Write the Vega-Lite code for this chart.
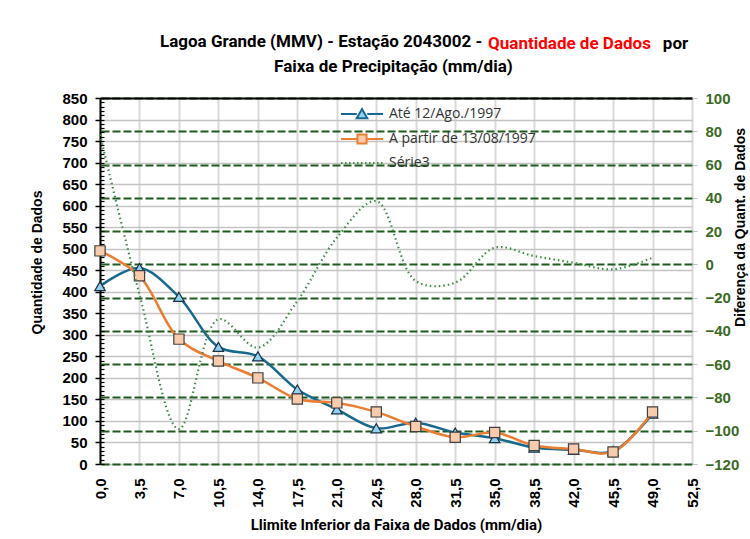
{
  "$schema": "https://vega.github.io/schema/vega-lite/v6.json",
  "width": 592,
  "height": 366,
  "autosize": {"type": "none"},
  "padding": {"left": 100, "top": 98, "right": 58, "bottom": 75},
  "background": "white",
  "config": {"view": {"stroke": null}},
  "title": {
    "text": "Lagoa Grande (MMV) - Estação 2043002 -",
    "subtitle": "\u200b\u00a0\u00a0\u00a0\u00a0\u00a0\u00a0\u00a0\u00a0\u00a0\u00a0\u00a0\u00a0\u00a0\u00a0\u00a0\u00a0\u00a0\u00a0\u00a0\u00a0\u00a0\u00a0\u00a0\u00a0\u00a0\u00a0\u00a0Faixa de Precipitação (mm/dia)",
    "anchor": "start",
    "frame": "group",
    "dx": 60,
    "dy": 57,
    "offset": 15,
    "font": "Roboto",
    "fontSize": 17,
    "fontWeight": "bold",
    "color": "black",
    "subtitleFont": "Roboto",
    "subtitleFontSize": 17,
    "subtitleFontWeight": "bold",
    "subtitleColor": "black",
    "subtitlePadding": 8
  },
  "datasets": {
    "dados": [
      {"x": 0, "ate": 413, "apartir": 495, "serie3": 78},
      {"x": 3.5, "ate": 455, "apartir": 437, "serie3": -18},
      {"x": 7, "ate": 388, "apartir": 290, "serie3": -99},
      {"x": 10.5, "ate": 272, "apartir": 239, "serie3": -33},
      {"x": 14, "ate": 250, "apartir": 200, "serie3": -50},
      {"x": 17.5, "ate": 173, "apartir": 151, "serie3": -22},
      {"x": 21, "ate": 127, "apartir": 142, "serie3": 16},
      {"x": 24.5, "ate": 83, "apartir": 121, "serie3": 38},
      {"x": 28, "ate": 96, "apartir": 87, "serie3": -10},
      {"x": 31.5, "ate": 73, "apartir": 62, "serie3": -11},
      {"x": 35, "ate": 60, "apartir": 73, "serie3": 10},
      {"x": 38.5, "ate": 38, "apartir": 43, "serie3": 5},
      {"x": 42, "ate": 33, "apartir": 35, "serie3": 1},
      {"x": 45.5, "ate": 30, "apartir": 28, "serie3": -3},
      {"x": 49, "ate": 117, "apartir": 121, "serie3": 4}
    ],
    "legenda": [
      {"serie": "Até 12/Ago./1997", "v": null},
      {"serie": "A partir de 13/08/1997", "v": null},
      {"serie": "Série3", "v": null}
    ]
  },
  "layer": [
    {
      "layer": [
        {
          "data": {"name": "dados"},
          "mark": {"type": "line", "interpolate": "catmull-rom", "color": "#17698F", "strokeWidth": 2.5},
          "encoding": {
            "x": {
              "field": "x", "type": "quantitative",
              "scale": {"domain": [0, 52.5], "nice": false, "zero": false},
              "axis": {
                "orient": "top", "labels": false, "ticks": false, "grid": false,
                "domain": true, "domainColor": "black", "domainWidth": 2,
                "title": "Quantidade de Dados",
                "titleFont": "Roboto", "titleFontSize": 17, "titleFontWeight": "bold", "titleColor": "#FF0000",
                "titleX": 469, "titleY": -50, "titleBaseline": "alphabetic", "titleAlign": "center", "titleAngle": 0
              }
            },
            "y": {
              "field": "ate", "type": "quantitative",
              "scale": {"domain": [0, 850], "nice": false},
              "axis": {
                "orient": "left",
                "values": [0, 50, 100, 150, 200, 250, 300, 350, 400, 450, 500, 550, 600, 650, 700, 750, 800, 850],
                "grid": true, "gridColor": "#C4C4C4", "gridWidth": 1.5,
                "domain": true, "domainColor": "black", "domainWidth": 2,
                "ticks": true, "tickColor": "black", "tickSize": 5, "tickWidth": 1.5,
                "labelFont": "Liberation Sans", "labelFontWeight": "bold", "labelFontSize": 15, "labelColor": "black",
                "labelPadding": 8,
                "title": "Quantidade de Dados",
                "titleFont": "Liberation Sans", "titleFontSize": 14, "titleFontWeight": "bold", "titleColor": "black",
                "titleAngle": 270, "titleX": -63, "titleY": 164, "titleBaseline": "middle", "titleAlign": "center"
              }
            }
          }
        },
        {
          "data": {"name": "dados"},
          "mark": {"type": "point", "shape": "triangle-up", "filled": true, "size": 110, "fill": "#91D2F0", "stroke": "#1B2F45", "strokeWidth": 1.2, "opacity": 1},
          "encoding": {
            "x": {"field": "x", "type": "quantitative"},
            "y": {"field": "ate", "type": "quantitative", "axis": null}
          }
        },
        {
          "data": {"name": "dados"},
          "mark": {"type": "line", "interpolate": "catmull-rom", "color": "#ED7D31", "strokeWidth": 2.5},
          "encoding": {
            "x": {"field": "x", "type": "quantitative"},
            "y": {"field": "apartir", "type": "quantitative", "axis": null}
          }
        },
        {
          "data": {"name": "dados"},
          "mark": {"type": "point", "shape": "square", "filled": true, "size": 105, "fill": "#F8CBAD", "stroke": "#404040", "strokeWidth": 1.2, "opacity": 1},
          "encoding": {
            "x": {"field": "x", "type": "quantitative"},
            "y": {"field": "apartir", "type": "quantitative", "axis": null}
          }
        },
        {
          "data": {"name": "legenda"},
          "mark": {"type": "point", "filled": false, "opacity": 1, "strokeWidth": 2},
          "encoding": {
            "x": {"field": "v", "type": "quantitative"},
            "y": {
              "field": "v", "type": "quantitative",
              "axis": {
                "orient": "left",
                "values": [0, 10, 20, 30, 40, 50, 60, 70, 80, 90, 100, 110, 120, 130, 140, 150, 160, 170, 180, 190, 200, 210, 220, 230, 240, 250, 260, 270, 280, 290, 300, 310, 320, 330, 340, 350, 360, 370, 380, 390, 400, 410, 420, 430, 440, 450, 460, 470, 480, 490, 500, 510, 520, 530, 540, 550, 560, 570, 580, 590, 600, 610, 620, 630, 640, 650, 660, 670, 680, 690, 700, 710, 720, 730, 740, 750, 760, 770, 780, 790, 800, 810, 820, 830, 840, 850],
                "labels": false, "domain": false, "grid": false,
                "ticks": true, "tickColor": "black", "tickSize": -4, "tickWidth": 1.2,
                "title": "por",
                "titleFont": "Roboto", "titleFontSize": 17, "titleFontWeight": "bold", "titleColor": "black",
                "titleX": 575, "titleY": -50, "titleBaseline": "alphabetic", "titleAlign": "center", "titleAngle": 0
              }
            },
            "color": {
              "field": "serie", "type": "nominal",
              "scale": {"domain": ["Até 12/Ago./1997", "A partir de 13/08/1997", "Série3"], "range": ["#17698F", "#ED7D31", "#3E8E41"]},
              "legend": {
                "orient": "none", "legendX": 254, "legendY": 8, "title": null,
                "labelFont": "Open Sans", "labelFontSize": 14, "labelColor": "#333333",
                "symbolSize": 196, "symbolStrokeWidth": 2, "labelOffset": 19, "rowPadding": 7,
                "encoding": {
                  "symbols": {
                    "fill": {"value": {"expr": "datum.value === 'Até 12/Ago./1997' ? '#91D2F0' : datum.value === 'A partir de 13/08/1997' ? '#F8CBAD' : 'transparent'"}}
                  }
                }
              }
            },
            "shape": {
              "field": "serie", "type": "nominal",
              "scale": {"domain": ["Até 12/Ago./1997", "A partir de 13/08/1997", "Série3"], "range": ["M-3,0H-0.75M0.75,0H3M0,-0.7L0.75,0.6H-0.75Z", "M-3,0H-0.65M0.65,0H3M-0.65,-0.65H0.65V0.65H-0.65Z", "M-3,0H3"]}
            },
            "strokeDash": {
              "field": "serie", "type": "nominal",
              "scale": {"domain": ["Até 12/Ago./1997", "A partir de 13/08/1997", "Série3"], "range": [[1, 0], [1, 0], [1.5, 2.5]]}
            }
          }
        }
      ],
      "resolve": {"axis": {"y": "independent"}}
    },
    {
      "data": {"name": "dados"},
      "mark": {"type": "line", "interpolate": "catmull-rom", "color": "#3E8E41", "strokeWidth": 2.2, "strokeDash": [1.5, 3]},
      "encoding": {
        "x": {
          "field": "x", "type": "quantitative",
          "axis": {
            "orient": "bottom",
            "values": [0, 3.5, 7, 10.5, 14, 17.5, 21, 24.5, 28, 31.5, 35, 38.5, 42, 45.5, 49, 52.5],
            "grid": true, "gridColor": "#D9D9D9", "gridWidth": 2,
            "domain": false, "ticks": false,
            "labelAngle": 270, "labelFlush": false, "labelOverlap": false,
            "labelExpr": "replace(format(datum.value, '.1f'), '.', ',')",
            "labelFont": "Liberation Sans", "labelFontWeight": "bold", "labelFontSize": 15, "labelColor": "black",
            "labelPadding": 14,
            "title": "Llimite Inferior da Faixa de Dados (mm/dia)",
            "titleFont": "Roboto", "titleFontSize": 15, "titleFontWeight": "bold", "titleColor": "black",
            "titleY": 60, "titleBaseline": "middle"
          }
        },
        "y": {
          "field": "serie3", "type": "quantitative",
          "scale": {"domain": [-120, 100], "nice": false, "zero": false},
          "axis": {
            "orient": "right",
            "values": [-120, -100, -80, -60, -40, -20, 0, 20, 40, 60, 80, 100],
            "grid": true, "gridColor": "#1F5A1F", "gridWidth": 2, "gridDash": [8, 3],
            "domain": false, "ticks": true, "tickColor": "#BFBFBF", "tickSize": 5,
            "labelFont": "Liberation Sans", "labelFontWeight": "bold", "labelFontSize": 15, "labelColor": "#3A6B24",
            "labelPadding": 8,
            "title": "Diferença da Quant. de Dados",
            "titleFont": "Liberation Sans", "titleFontSize": 14, "titleFontWeight": "bold", "titleColor": "black",
            "titleAngle": 270, "titleX": 48, "titleY": 129, "titleBaseline": "middle", "titleAlign": "center"
          }
        }
      }
    }
  ],
  "resolve": {"scale": {"y": "independent"}, "axis": {"x": "independent", "y": "independent"}}
}
